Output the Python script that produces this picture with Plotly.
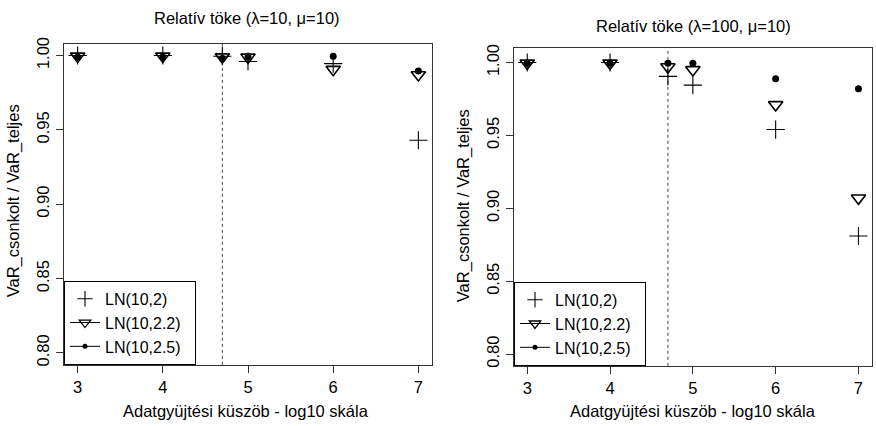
import numpy as np
import plotly.graph_objects as go

# ---------------- data ----------------
thresholds = [3, 4, np.log10(5e4), 5, 6, 7]   # log10 data-collection threshold
cut_line = np.log10(5e4)

series_names = ["LN(10,2)", "LN(10,2.2)", "LN(10,2.5)"]

# panel 1: lambda=10, mu=10
left_ln2 = [1.000, 1.000, 0.9995, 0.996, 0.9945, 0.943]
left_ln22 = [0.9995, 0.9995, 0.999, 0.9988, 0.9906, 0.987]
left_ln25 = [0.999, 0.999, 0.998, 0.999, 0.9995, 0.9895]

# panel 2: lambda=100, mu=10
right_ln2 = [1.000, 1.000, 0.9905, 0.9845, 0.954, 0.881]
right_ln22 = [0.9995, 0.9995, 0.997, 0.995, 0.971, 0.907]
right_ln25 = [0.9995, 0.9995, 0.9995, 0.9995, 0.9888, 0.982]

x_ticks = [3, 4, 5, 6, 7]
y_ticks = [0.80, 0.85, 0.90, 0.95, 1.00]
y_tick_text = ["0.80", "0.85", "0.90", "0.95", "1.00"]

titles = ["Relatív töke (\u03bb=10, \u03bc=10)", "Relatív töke (\u03bb=100, \u03bc=10)"]
x_title = "Adatgyüjtési küszöb - log10 skála"
y_title = "VaR_csonkolt / VaR_teljes"

# ---------------- styling ----------------
W, H = 876, 426
FONT = "Liberation Sans, Arial, sans-serif"
FS = 16.5
styles = [
    dict(symbol="cross-thin-open", size=13, color="black", line=dict(width=1.1, color="#222")),
    dict(symbol="triangle-down-open", size=12.5, color="black", line=dict(width=1.6, color="black")),
    dict(symbol="circle", size=7, color="black", line=dict(width=0)),
]
legend_styles = [
    dict(symbol="cross-thin-open", size=11, color="black", line=dict(width=1.1, color="#222")),
    dict(symbol="triangle-down-open", size=10, color="black", line=dict(width=1.3, color="black")),
    dict(symbol="circle", size=5, color="black", line=dict(width=0)),
]
legend_modes = ["markers", "lines+markers", "lines+markers"]

fig = go.Figure()

panels = [
    (left_ln2, left_ln22, left_ln25),
    (right_ln2, right_ln22, right_ln25),
]
axes = [("x", "y", "legend"), ("x2", "y2", "legend2")]

for (vals, (xa, ya, lg)) in zip(panels, axes):
    for name, v, st in zip(series_names, vals, styles):
        fig.add_trace(go.Scatter(
            x=thresholds, y=v, mode="markers", marker=st, name=name,
            xaxis=xa, yaxis=ya, showlegend=False, cliponaxis=False))
    # legend entries
    for name, st, md in zip(series_names, legend_styles, legend_modes):
        fig.add_trace(go.Scatter(
            x=[None], y=[None], mode=md, marker=st, name=name + "  ",
            line=dict(color="black", width=1), xaxis=xa, yaxis=ya,
            legend=lg, showlegend=True))

# domains (pixel -> paper)
def px_x(a, b):
    return [a / W, b / W]

def px_y(top, bottom):
    return [1 - bottom / H, 1 - top / H]

dom_x1 = px_x(64, 432)
dom_y1 = px_y(38.3, 365.7)
dom_x2 = px_x(514, 871.7)
dom_y2 = px_y(42.7, 366.7)

axis_common = dict(
    showline=True, linecolor="#333", linewidth=1, mirror=True,
    ticks="outside", ticklen=7, tickcolor="#333", showgrid=False,
    zeroline=False, tickfont=dict(family=FONT, size=FS, color="black"),
)

legend_common = dict(xanchor="left", yanchor="bottom",
                     bordercolor="black", borderwidth=1, bgcolor="white",
                     font=dict(family=FONT, size=16, color="black"),
                     itemwidth=30, tracegroupgap=0)

fig.update_layout(
    width=W, height=H,
    margin=dict(l=0, r=0, t=0, b=0),
    paper_bgcolor="white", plot_bgcolor="white",
    font=dict(family=FONT, size=FS, color="black"),
    xaxis=dict(domain=dom_x1, range=[2.84, 7.16], tickvals=x_ticks, anchor="y", **axis_common),
    yaxis=dict(domain=dom_y1, range=[0.792, 1.008], tickvals=y_ticks, ticktext=y_tick_text,
               tickangle=-90, anchor="x", **axis_common),
    xaxis2=dict(domain=dom_x2, range=[2.84, 7.16], tickvals=x_ticks, anchor="y2", **axis_common),
    yaxis2=dict(domain=dom_y2, range=[0.792, 1.010], tickvals=y_ticks, ticktext=y_tick_text,
                tickangle=-90, anchor="x2", **axis_common),
    legend=dict(x=dom_x1[0], y=dom_y1[0], **legend_common),
    legend2=dict(x=dom_x2[0], y=dom_y2[0], **legend_common),
)

# threshold dotted lines
for xr, yr in [("x", "y domain"), ("x2", "y2 domain")]:
    fig.add_shape(type="line", xref=xr, yref=yr, x0=cut_line, x1=cut_line, y0=0, y1=1,
                  line=dict(color="#444", width=1, dash="dot"), layer="below")

# titles and axis titles
annots = [
    dict(text=titles[0], x=247 / W, y=1 - 12 / H),
    dict(text=titles[1], x=693 / W, y=1 - 20 / H),
    dict(text=x_title, x=246 / W, y=1 - 413 / H),
    dict(text=x_title, x=692.5 / W, y=1 - 413 / H),
    dict(text=y_title, x=13 / W, y=1 - 199 / H, textangle=-90),
    dict(text=y_title, x=463 / W, y=1 - 204 / H, textangle=-90),
]
for a in annots:
    fig.add_annotation(xref="paper", yref="paper", showarrow=False,
                       xanchor="center", yanchor="middle",
                       font=dict(family=FONT, size=FS, color="black"), **a)

fig.write_html("out.html", config={"displayModeBar": False},
               post_script="document.body.style.margin='0';document.body.style.overflow='hidden';")
